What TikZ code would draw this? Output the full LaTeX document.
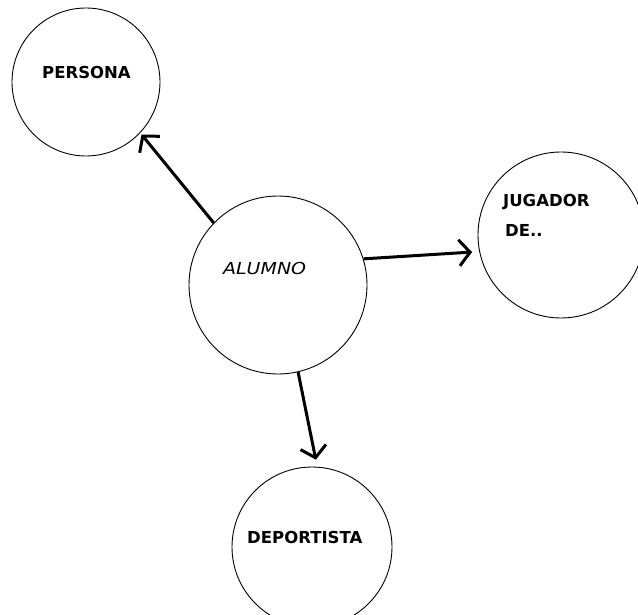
\documentclass[tikz,border=0pt]{standalone}
\usepackage{fontspec}
\usepackage{graphicx}
\setmainfont{DejaVu Sans}
\usetikzlibrary{arrows.meta,calc}
\begin{document}
\begin{tikzpicture}[x=1pt,y=-1pt,
  bubble/.style={circle,draw=black,line width=0.9pt,inner sep=0pt},
  lbl/.style={font=\fontsize{16.5}{18}\selectfont\bfseries,inner sep=0pt,anchor=west},
  link/.style={line width=3pt,-{Straight Barb[length=11pt,width=26pt,line width=3pt]},shorten >=2pt}]
\useasboundingbox (0,0) rectangle (638,615);
\fill[white] (0,0) rectangle (638,615);
\node[bubble,minimum size=148pt] (persona) at (86,82) {};
\node[bubble,minimum size=178pt] (alumno) at (278,285) {};
\node[bubble,minimum size=166pt] (jugador) at (561,235) {};
\node[bubble,minimum size=160pt] (deport) at (312,547) {};
\node[lbl] (tp) at (42,72) {PERSONA};
\node[lbl,font=\fontsize{16.5}{18}\selectfont\itshape] (ta) at (223,268) {\scalebox{1.15}[1]{ALUMNO}};
\node[lbl] (tj) at (503,202) {JUGADOR};
\node[lbl] (tj2) at (505,230) {DE..};
\node[lbl] (td) at (247,537) {DEPORTISTA};
\draw[link] (alumno.136) -- ($(persona.-47)+(3.5,-3.5)$);
\draw[link] (alumno.17) -- ($(jugador.191)+(-5,1)$);
\draw[link] (alumno.-77) -- ($(deport.87)+(0,-5)$);
\end{tikzpicture}
\end{document}
